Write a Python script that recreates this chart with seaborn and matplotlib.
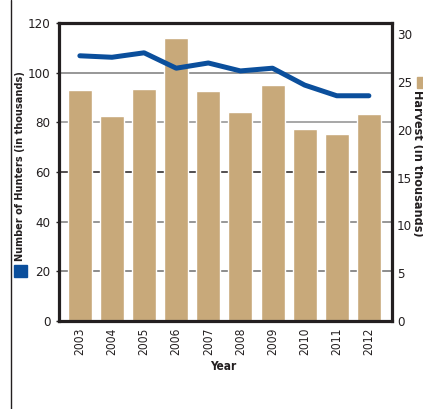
import matplotlib
matplotlib.use("Agg")
import matplotlib.pyplot as plt
import matplotlib.transforms as mtransforms
from matplotlib.lines import Line2D
from matplotlib.patches import Rectangle
import seaborn as sns
import pandas as pd

# Hunter numbers and deer harvest by season (thousands)
years = ["2003", "2004", "2005", "2006", "2007", "2008", "2009", "2010", "2011", "2012"]
hunters = [106.8, 106.2, 108.0, 101.8, 103.9, 100.7, 101.8, 95.0, 90.7, 90.7]
harvest = [24.1, 21.4, 24.25, 29.6, 24.0, 21.8, 24.7, 20.1, 19.5, 21.6]

hunter_ticks = [0, 20, 40, 60, 80, 100, 120]
harvest_ticks = [0, 5, 10, 15, 20, 25, 30]

df = pd.DataFrame({"Year": years, "Hunters": hunters, "Harvest": harvest})

sns.set_theme(style="white")
plt.rcParams["font.family"] = ["DejaVu Sans"]
plt.rcParams["font.stretch"] = "condensed"

BLUE = "#0b4f9c"
TAN = "#c8a97a"
INK = "#231f20"

W, H = 423, 409
fig = plt.figure(figsize=(W / 100, H / 100), dpi=100)
fig.patch.set_facecolor("white")

ax_h = fig.add_axes([59 / W, (H - 321) / H, (392 - 59) / W, (321 - 23) / H])
ax_b = ax_h.twinx()
ax_b.set_zorder(ax_h.get_zorder() - 1)
ax_h.patch.set_visible(False)
ax_b.patch.set_facecolor("white")

# harvest bars (right axis)
sns.barplot(data=df, x="Year", y="Harvest", ax=ax_b, color=TAN, width=0.75,
            saturation=1, errorbar=None, zorder=3)

# hunter numbers line (left axis)
sns.pointplot(data=df, x="Year", y="Hunters", ax=ax_h, color=BLUE, markers="",
              errorbar=None, lw=3.6)
for ln in ax_h.lines:
    ln.set_linewidth(3.6)
    ln.set_solid_capstyle("round")
    ln.set_solid_joinstyle("round")

ax_h.set_ylim(0, 120)
ax_b.set_ylim(0, 31.15)
ax_h.set_xlim(-0.65, 9.72)

# horizontal rules behind the bars, at the hunter tick values
blend = mtransforms.blended_transform_factory(ax_b.transAxes, ax_h.transData)
grid_colors = {20: "#6d6d6d", 40: "#7a7a7a", 60: INK, 80: "#8f8f8f", 100: "#7a7a7a"}
for v, c in grid_colors.items():
    ax_b.add_line(Line2D([0, 1], [v, v], transform=blend, color=c, lw=1.1, zorder=1))

ax_h.set_yticks(hunter_ticks)
ax_b.set_yticks(harvest_ticks)
ax_h.set_xlabel("")
ax_h.set_ylabel("")
ax_b.set_xlabel("")
ax_b.set_ylabel("")

for s in ax_b.spines.values():
    s.set_visible(False)
for s in ax_h.spines.values():
    s.set_visible(True)
    s.set_color(INK)
    s.set_linewidth(2.3)

ax_h.tick_params(axis="y", left=True, length=2, width=1, color=INK, pad=4,
                 labelsize=9.5, labelcolor=INK)
ax_b.tick_params(axis="y", right=False, length=0, pad=3.5, labelsize=9.5,
                 labelcolor=INK)
ax_h.tick_params(axis="x", bottom=False, length=0, pad=5, labelsize=8.6,
                 labelcolor=INK, labelrotation=90)

# axis titles and colour keys
fig.text(20 / W, (H - 261) / H, "Number of Hunters (in thousands)", rotation=90,
         ha="center", va="bottom", fontsize=7.8, fontweight="bold", color=INK)
fig.patches.append(Rectangle((14 / W, (H - 277) / H), 13 / W, 12 / H,
                             transform=fig.transFigure, color=BLUE))
fig.text(411 / W, (H - 90) / H, "Harvest (in thousands)", rotation=-90,
         ha="left", va="top", fontsize=9, fontweight="bold", color=INK)
fig.patches.append(Rectangle((417 / W, (H - 88) / H), 10 / W, 11 / H,
                             transform=fig.transFigure, color=TAN))
fig.text(223 / W, (H - 367) / H, "Year", ha="center", va="center",
         fontsize=8.5, fontweight="bold", color=INK)

# thin frame rule at the left edge
fig.add_artist(Line2D([11 / W, 11 / W], [0, 1], transform=fig.transFigure,
                      color=INK, lw=1.0))

fig.savefig("out.png", dpi=100)
